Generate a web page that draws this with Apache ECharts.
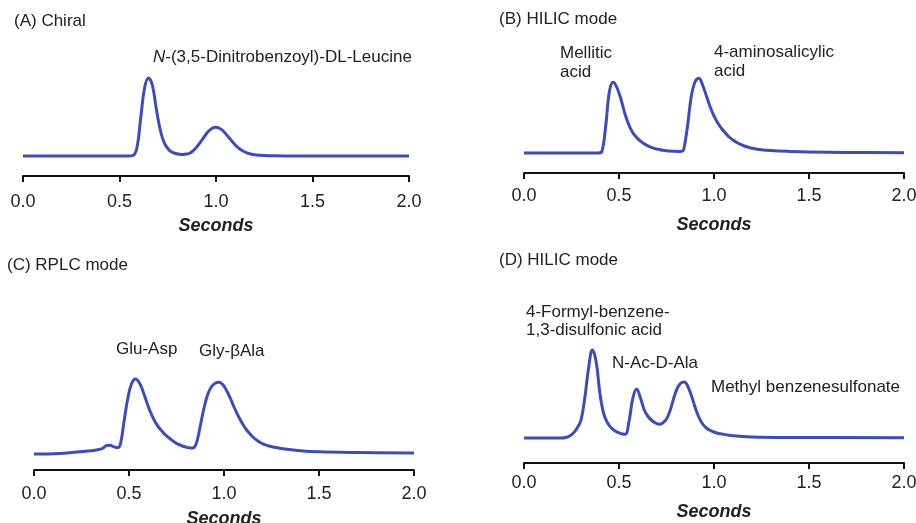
<!DOCTYPE html>
<html>
<head>
<meta charset="utf-8">
<title>Chromatograms</title>
<script src="https://cdn.jsdelivr.net/npm/echarts@6/dist/echarts.min.js"></script>
<style>
  html, body { margin: 0; padding: 0; background: #fff; }
  #chart { width: 916px; height: 523px; }
</style>
</head>
<body>
<div id="chart"></div>
<script>
// x ticks (seconds)
const xTicks = [0.0, 0.5, 1.0, 1.5, 2.0]

// detector signal above baseline, [seconds, signal]
const chiral = [
  [0, 0], [0.5, 0], [0.55, 0], [0.57, 0.5], [0.59, 8], [0.61, 38], [0.63, 68], [0.65, 78],
  [0.67, 71], [0.69, 48], [0.71, 27], [0.73, 14], [0.75, 7.5], [0.77, 4], [0.79, 2.5],
  [0.81, 1.8], [0.83, 1.6], [0.85, 2], [0.86, 2.5], [0.88, 5], [0.9, 9], [0.92, 14],
  [0.94, 19.5], [0.96, 24.5], [0.98, 27.7], [1.0, 28.7], [1.02, 27.5], [1.04, 24.5],
  [1.06, 20], [1.08, 15.5], [1.1, 11], [1.12, 7.5], [1.14, 5], [1.16, 3.2], [1.18, 2],
  [1.2, 1.3], [1.25, 0.5], [1.3, 0.2], [1.4, 0], [2.0, 0],
]
const hilicB = [
  [0, 0], [0.35, 0], [0.39, 0], [0.41, 1.5], [0.43, 27], [0.45, 62], [0.47, 70.7], [0.49, 65],
  [0.51, 54], [0.53, 40], [0.55, 29], [0.57, 21], [0.59, 16], [0.61, 12.5], [0.63, 9.5],
  [0.65, 7.3], [0.67, 5.7], [0.69, 4.4], [0.71, 3.5], [0.73, 2.8], [0.75, 2.3], [0.77, 2],
  [0.79, 1.8], [0.81, 1.6], [0.83, 1.8], [0.84, 3], [0.86, 26], [0.88, 56], [0.9, 71],
  [0.92, 74.7], [0.94, 68], [0.96, 57], [0.98, 46], [1.0, 37], [1.02, 30], [1.04, 24.5],
  [1.06, 20], [1.08, 16], [1.1, 13], [1.12, 10.5], [1.14, 8.6], [1.16, 7], [1.18, 5.8],
  [1.2, 4.8], [1.25, 3.2], [1.3, 2.4], [1.4, 1.6], [1.5, 1.1], [1.7, 0.6], [2.0, 0.3],
]
const rplc = [
  [0, 0], [0.1, 0.3], [0.2, 1.5], [0.3, 3.2], [0.34, 4.5], [0.36, 5.5], [0.38, 8.3],
  [0.4, 8.8], [0.42, 7.2], [0.44, 6.3], [0.455, 10], [0.475, 34], [0.495, 57], [0.515, 71],
  [0.535, 75], [0.555, 71], [0.575, 62], [0.595, 51], [0.615, 41], [0.635, 33], [0.655, 27],
  [0.675, 22.5], [0.695, 18.5], [0.715, 15.5], [0.735, 12.5], [0.755, 10.2], [0.775, 8.5],
  [0.795, 7.2], [0.815, 6.2], [0.835, 6], [0.855, 11], [0.875, 28], [0.895, 46], [0.915, 60],
  [0.935, 67.5], [0.955, 71], [0.975, 71.7], [0.995, 69], [1.015, 63], [1.035, 55],
  [1.055, 46], [1.075, 38], [1.095, 31], [1.115, 25], [1.135, 20.5], [1.155, 16.5],
  [1.175, 13.5], [1.195, 11], [1.215, 9.3], [1.235, 8], [1.26, 7], [1.3, 5.5], [1.4, 3.3],
  [1.5, 2.2], [1.7, 1.5], [2.0, 1],
]
const hilicD = [
  [0, 0], [0.18, 0], [0.2, 0], [0.22, 0.5], [0.24, 2], [0.26, 5], [0.28, 10], [0.3, 18],
  [0.32, 40], [0.34, 70], [0.36, 88], [0.38, 76], [0.4, 44], [0.42, 24], [0.44, 15],
  [0.46, 10], [0.48, 7], [0.5, 5.2], [0.52, 4], [0.533, 3.7], [0.553, 17], [0.573, 40],
  [0.593, 49], [0.613, 40], [0.633, 28], [0.653, 21.5], [0.673, 17.5], [0.693, 15],
  [0.713, 13.7], [0.73, 15], [0.75, 19], [0.77, 28], [0.79, 41], [0.81, 51], [0.83, 55.5],
  [0.845, 56], [0.86, 52.5], [0.88, 43], [0.9, 31], [0.92, 21], [0.94, 14], [0.96, 10],
  [0.98, 7.6], [1.0, 6], [1.02, 4.8], [1.05, 3.7], [1.08, 2.8], [1.12, 2], [1.2, 1],
  [1.4, 0.5], [2.0, 0.3],
]

const blue = '#3d4db5'
const ink = '#222'
const font = 'Liberation Sans, Arial, sans-serif'

const panels = [
  { data: chiral, grid: { left: 23, width: 386, top: 66, height: 110 }, yMin: -20, yMax: 90, labelMargin: 17, nameGap: 41 },
  { data: hilicB, grid: { left: 524, width: 380, top: 63, height: 110 }, yMin: -20, yMax: 90, labelMargin: 14.5, nameGap: 43 },
  { data: rplc, grid: { left: 34, width: 380, top: 364, height: 106 }, yMin: -16, yMax: 90, labelMargin: 15, nameGap: 40 },
  { data: hilicD, grid: { left: 524, width: 380, top: 338, height: 125 }, yMin: -25, yMax: 100, labelMargin: 11.5, nameGap: 40 },
]

function txt(x, y, text, extra) {
  return {
    type: 'text',
    x, y,
    style: Object.assign({
      text,
      font: '17px ' + font,
      fill: ink,
      textVerticalAlign: 'middle',
      verticalAlign: 'middle',
      lineHeight: 19,
    }, extra || {}),
  }
}

const option = {
  animation: false,
  backgroundColor: '#fff',
  // v6 would otherwise shrink grids to keep axis names inside the canvas
  grid: panels.map(p => Object.assign({ containLabel: false, outerBoundsMode: 'none' }, p.grid)),
  xAxis: panels.map((p, i) => ({
    type: 'value',
    gridIndex: i,
    min: 0,
    max: 2,
    interval: 0.5,
    name: 'Seconds',
    nameLocation: 'middle',
    nameGap: p.nameGap,
    nameTextStyle: { fontSize: 18, fontWeight: 'bold', fontStyle: 'italic', color: ink, fontFamily: font },
    splitLine: { show: false },
    axisLine: { onZero: false, lineStyle: { color: '#111', width: 2 } },
    axisTick: { show: true, inside: false, length: 6, lineStyle: { color: '#111', width: 2 } },
    axisLabel: {
      margin: p.labelMargin,
      fontSize: 18,
      color: ink,
      fontFamily: font,
      showMinLabel: true,
      showMaxLabel: true,
      formatter: v => xTicks.includes(v) ? v.toFixed(1) : '',
    },
  })),
  yAxis: panels.map((p, i) => ({
    type: 'value',
    gridIndex: i,
    min: p.yMin,
    max: p.yMax,
    show: false,
  })),
  series: panels.map((p, i) => ({
    type: 'line',
    xAxisIndex: i,
    yAxisIndex: i,
    data: p.data,
    smooth: 0.4,
    showSymbol: false,
    lineStyle: { color: blue, width: 3 },
  })),
  graphic: [
    txt(14, 21, '(A) Chiral'),
    txt(153, 57, '{i|N}-(3,5-Dinitrobenzoyl)-DL-Leucine', {
      rich: { i: { fontStyle: 'italic', fontSize: 17, fontFamily: font, fill: ink } },
    }),
    txt(499, 19, '(B) HILIC mode'),
    txt(560, 62.5, 'Mellitic\nacid'),
    txt(714, 61.5, '4-aminosalicylic\nacid'),
    txt(7, 265, '(C) RPLC mode'),
    txt(116, 349, 'Glu-Asp'),
    txt(199, 351, 'Gly-βAla'),
    txt(499, 260, '(D) HILIC mode'),
    txt(526, 321, '4-Formyl-benzene-\n1,3-disulfonic acid', { lineHeight: 18 }),
    txt(612, 363, 'N-Ac-D-Ala'),
    txt(711, 387, 'Methyl benzenesulfonate'),
  ],
}

const chart = echarts.init(document.getElementById('chart'))
chart.setOption(option)
</script>
</body>
</html>
